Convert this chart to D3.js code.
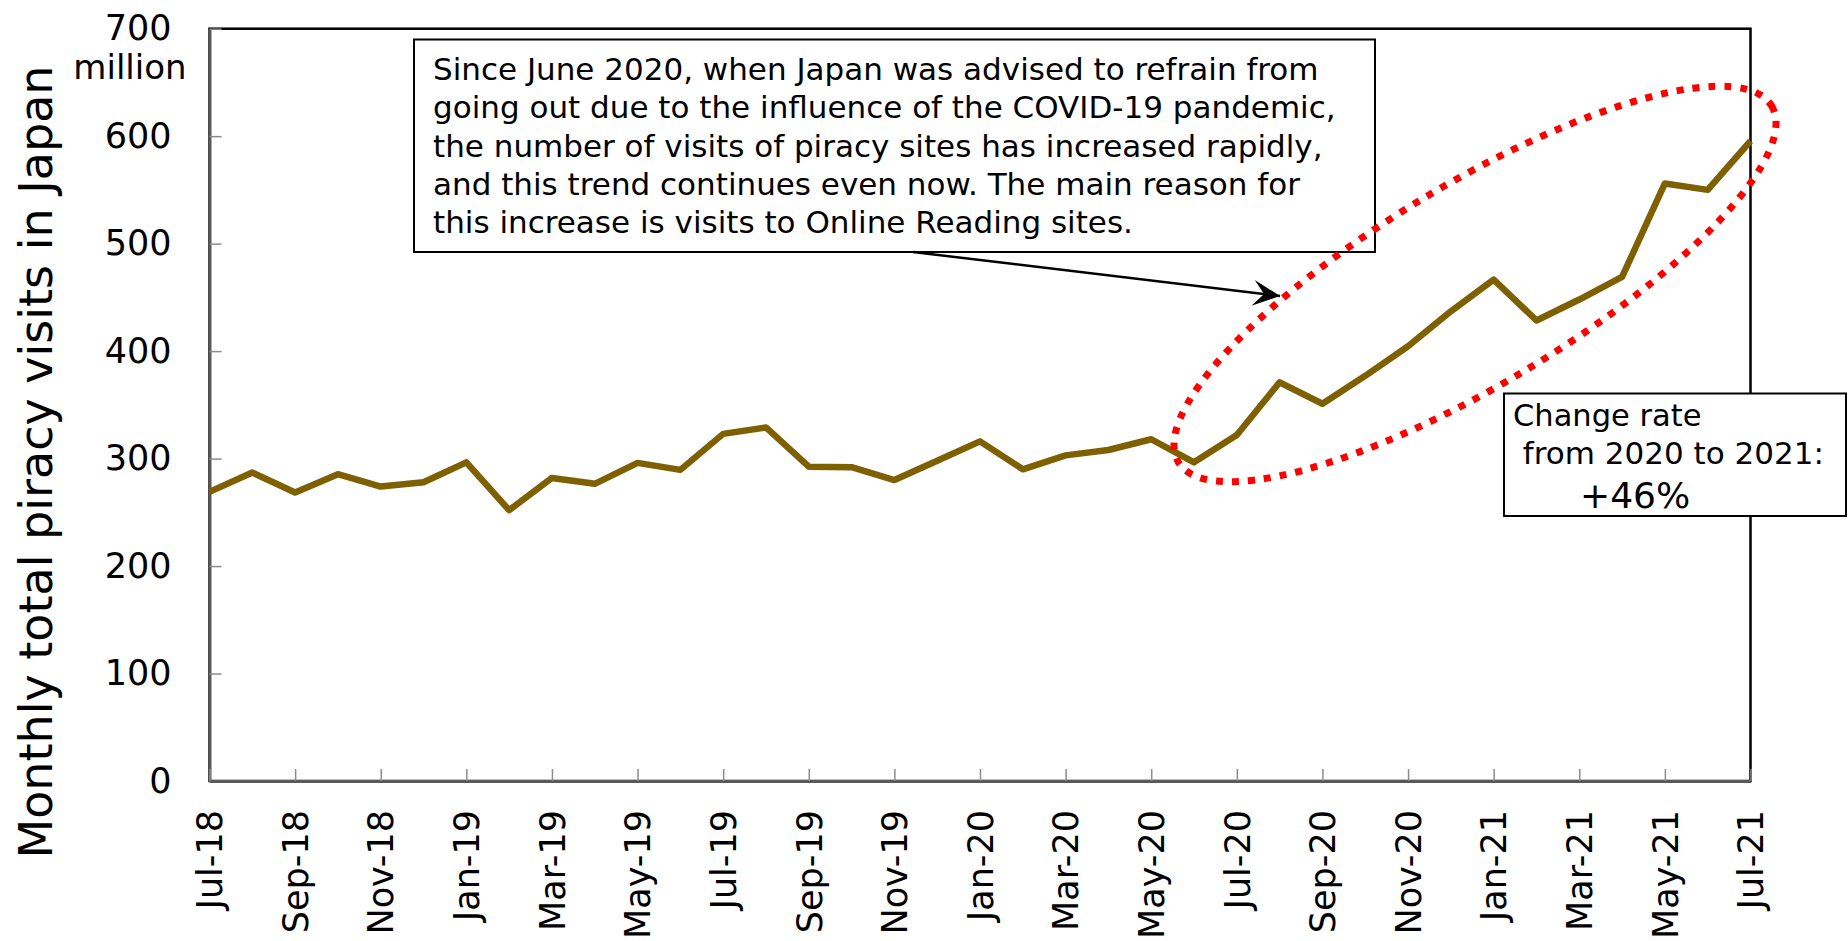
<!DOCTYPE html>
<html>
<head>
<meta charset="utf-8">
<script src="https://cdn.jsdelivr.net/npm/d3@7"></script>
<style>
  body { margin: 0; background: #fff; }
  svg { display: block; font-family: "DejaVu Sans", Verdana, sans-serif; }
</style>
</head>
<body>
<svg id="chart"></svg>
<script>
// DATA
////////////////////////////
var months = ["Jul-18","Aug-18","Sep-18","Oct-18","Nov-18","Dec-18",
              "Jan-19","Feb-19","Mar-19","Apr-19","May-19","Jun-19",
              "Jul-19","Aug-19","Sep-19","Oct-19","Nov-19","Dec-19",
              "Jan-20","Feb-20","Mar-20","Apr-20","May-20","Jun-20",
              "Jul-20","Aug-20","Sep-20","Oct-20","Nov-20","Dec-20",
              "Jan-21","Feb-21","Mar-21","Apr-21","May-21","Jun-21","Jul-21"];

// monthly total piracy visits (million)
var visits = [269, 287, 268.5, 285.5, 274, 278, 296.5, 252, 282, 276.5, 296, 289.5,
              323, 329, 292.5, 292, 280, 298, 316, 290, 303, 308, 318, 296.5,
              322, 371, 351, 377, 404.5, 437, 466.5, 428.5, 448, 469, 556, 550, 595.5];

var yTicks = [0, 100, 200, 300, 400, 500, 600, 700];

var noteLines = [
  "Since June 2020, when Japan was advised to refrain from",
  "going out due to the influence of the COVID-19 pandemic,",
  "the number of visits of piracy sites has increased rapidly,",
  "and this trend continues even now. The main reason for",
  "this increase is visits to Online Reading sites."
];
var rateLines = ["Change rate", " from 2020 to 2021:", "+46%"];

// SETUP
////////////////////////////
var width = 1848, height = 941;
var plotL = 209.5, plotR = 1750.5, plotT = 28.7, plotB = 781;   // plot area edges

var svg = d3.select("#chart")
    .attr("width", width)
    .attr("height", height);

var x = d3.scalePoint().domain(months).range([plotL, plotR]);
var y = d3.scaleLinear().domain([0, 700]).range([plotB, plotT]);

// plot frame (top & right are black)
svg.append("rect")
    .attr("x", plotL).attr("y", plotT)
    .attr("width", plotR - plotL).attr("height", plotB - plotT)
    .attr("fill", "none").attr("stroke", "#000").attr("stroke-width", 2.5);

// y axis
var yAxis = svg.append("g")
    .attr("transform", "translate(" + plotL + ",0)")
    .call(d3.axisLeft(y).tickValues(yTicks).tickSize(-12).tickSizeOuter(0).tickPadding(38));

// x axis - label every 2nd month
var xAxis = svg.append("g")
    .attr("transform", "translate(0," + plotB + ")")
    .call(d3.axisBottom(x)
      .tickValues(months.filter(function(d, i) { return i % 2 === 0; }))
      .tickSize(-12).tickSizeOuter(0));

xAxis.selectAll("text")
    .attr("transform", "rotate(-90)")
    .attr("text-anchor", "end")
    .attr("x", -29).attr("y", 0)
    .attr("dy", "0.35em");

[yAxis, xAxis].forEach(function(ax) {
  ax.select(".domain").attr("stroke", "#595959").attr("stroke-width", 3);
  ax.selectAll(".tick line").attr("stroke", "#8c8c8c").attr("stroke-width", 1.5);
  ax.selectAll("text")
    .attr("fill", "#000")
    .style("font-family", "DejaVu Sans, Verdana, sans-serif")
    .style("font-size", "35px");
});

// "million" under the 700 label
svg.append("text")
    .attr("x", 130).attr("y", 79)
    .attr("text-anchor", "middle")
    .style("font-size", "34px")
    .text("million");

// y axis title
svg.append("text")
    .attr("transform", "translate(52,462) rotate(-90)")
    .attr("text-anchor", "middle")
    .style("font-size", "46px")
    .text("Monthly total piracy visits in Japan");

// LINE
////////////////////////////
var line = d3.line()
    .x(function(d, i) { return x(months[i]); })
    .y(function(d) { return y(d); });

svg.append("path")
    .datum(visits)
    .attr("d", line)
    .attr("fill", "none")
    .attr("stroke", "#7f6000")
    .attr("stroke-width", 6.5)
    .attr("stroke-linejoin", "round");

// ANNOTATIONS
////////////////////////////
// note box
svg.append("rect")
    .attr("x", 414).attr("y", 39.5)
    .attr("width", 961).attr("height", 212.5)
    .attr("fill", "#fff").attr("stroke", "#000").attr("stroke-width", 2);

svg.append("g").selectAll("text")
    .data(noteLines)
    .enter().append("text")
      .attr("x", 433)
      .attr("y", function(d, i) { return 80 + i * 38.3; })
      .style("font-size", "31px")
      .text(function(d) { return d; });

// arrow from note box towards the ellipse
svg.append("defs").append("marker")
    .attr("id", "stealth")
    .attr("viewBox", "0 0 28 28")
    .attr("refX", 27).attr("refY", 14)
    .attr("markerWidth", 28).attr("markerHeight", 28)
    .attr("markerUnits", "userSpaceOnUse")
    .attr("orient", "auto")
  .append("path")
    .attr("d", "M0,1 L27,14 L0,27 L11,14 Z")
    .attr("fill", "#000");

svg.append("line")
    .attr("x1", 913).attr("y1", 252)
    .attr("x2", 1280).attr("y2", 296)
    .attr("stroke", "#000").attr("stroke-width", 2.5)
    .attr("marker-end", "url(#stealth)");

// red dotted ellipse round the 2020-21 rise
svg.append("ellipse")
    .attr("transform", "translate(1475,284) rotate(-31)")
    .attr("rx", 346).attr("ry", 100)
    .attr("fill", "none")
    .attr("stroke", "#ff0000")
    .attr("stroke-width", 7)
    .attr("stroke-dasharray", "7 9");

// change rate box
svg.append("rect")
    .attr("x", 1504).attr("y", 393.5)
    .attr("width", 342).attr("height", 122.5)
    .attr("fill", "#fff").attr("stroke", "#000").attr("stroke-width", 2);

svg.append("text").attr("x", 1513).attr("y", 425.5)
    .style("font-size", "30.5px")
    .text(rateLines[0]);
svg.append("text").attr("x", 1513).attr("y", 463.5)
    .style("font-size", "31px").style("white-space", "pre")
    .text(rateLines[1]);
svg.append("text").attr("x", 1580).attr("y", 507.5)
    .style("font-size", "36px")
    .text(rateLines[2]);
</script>
</body>
</html>
